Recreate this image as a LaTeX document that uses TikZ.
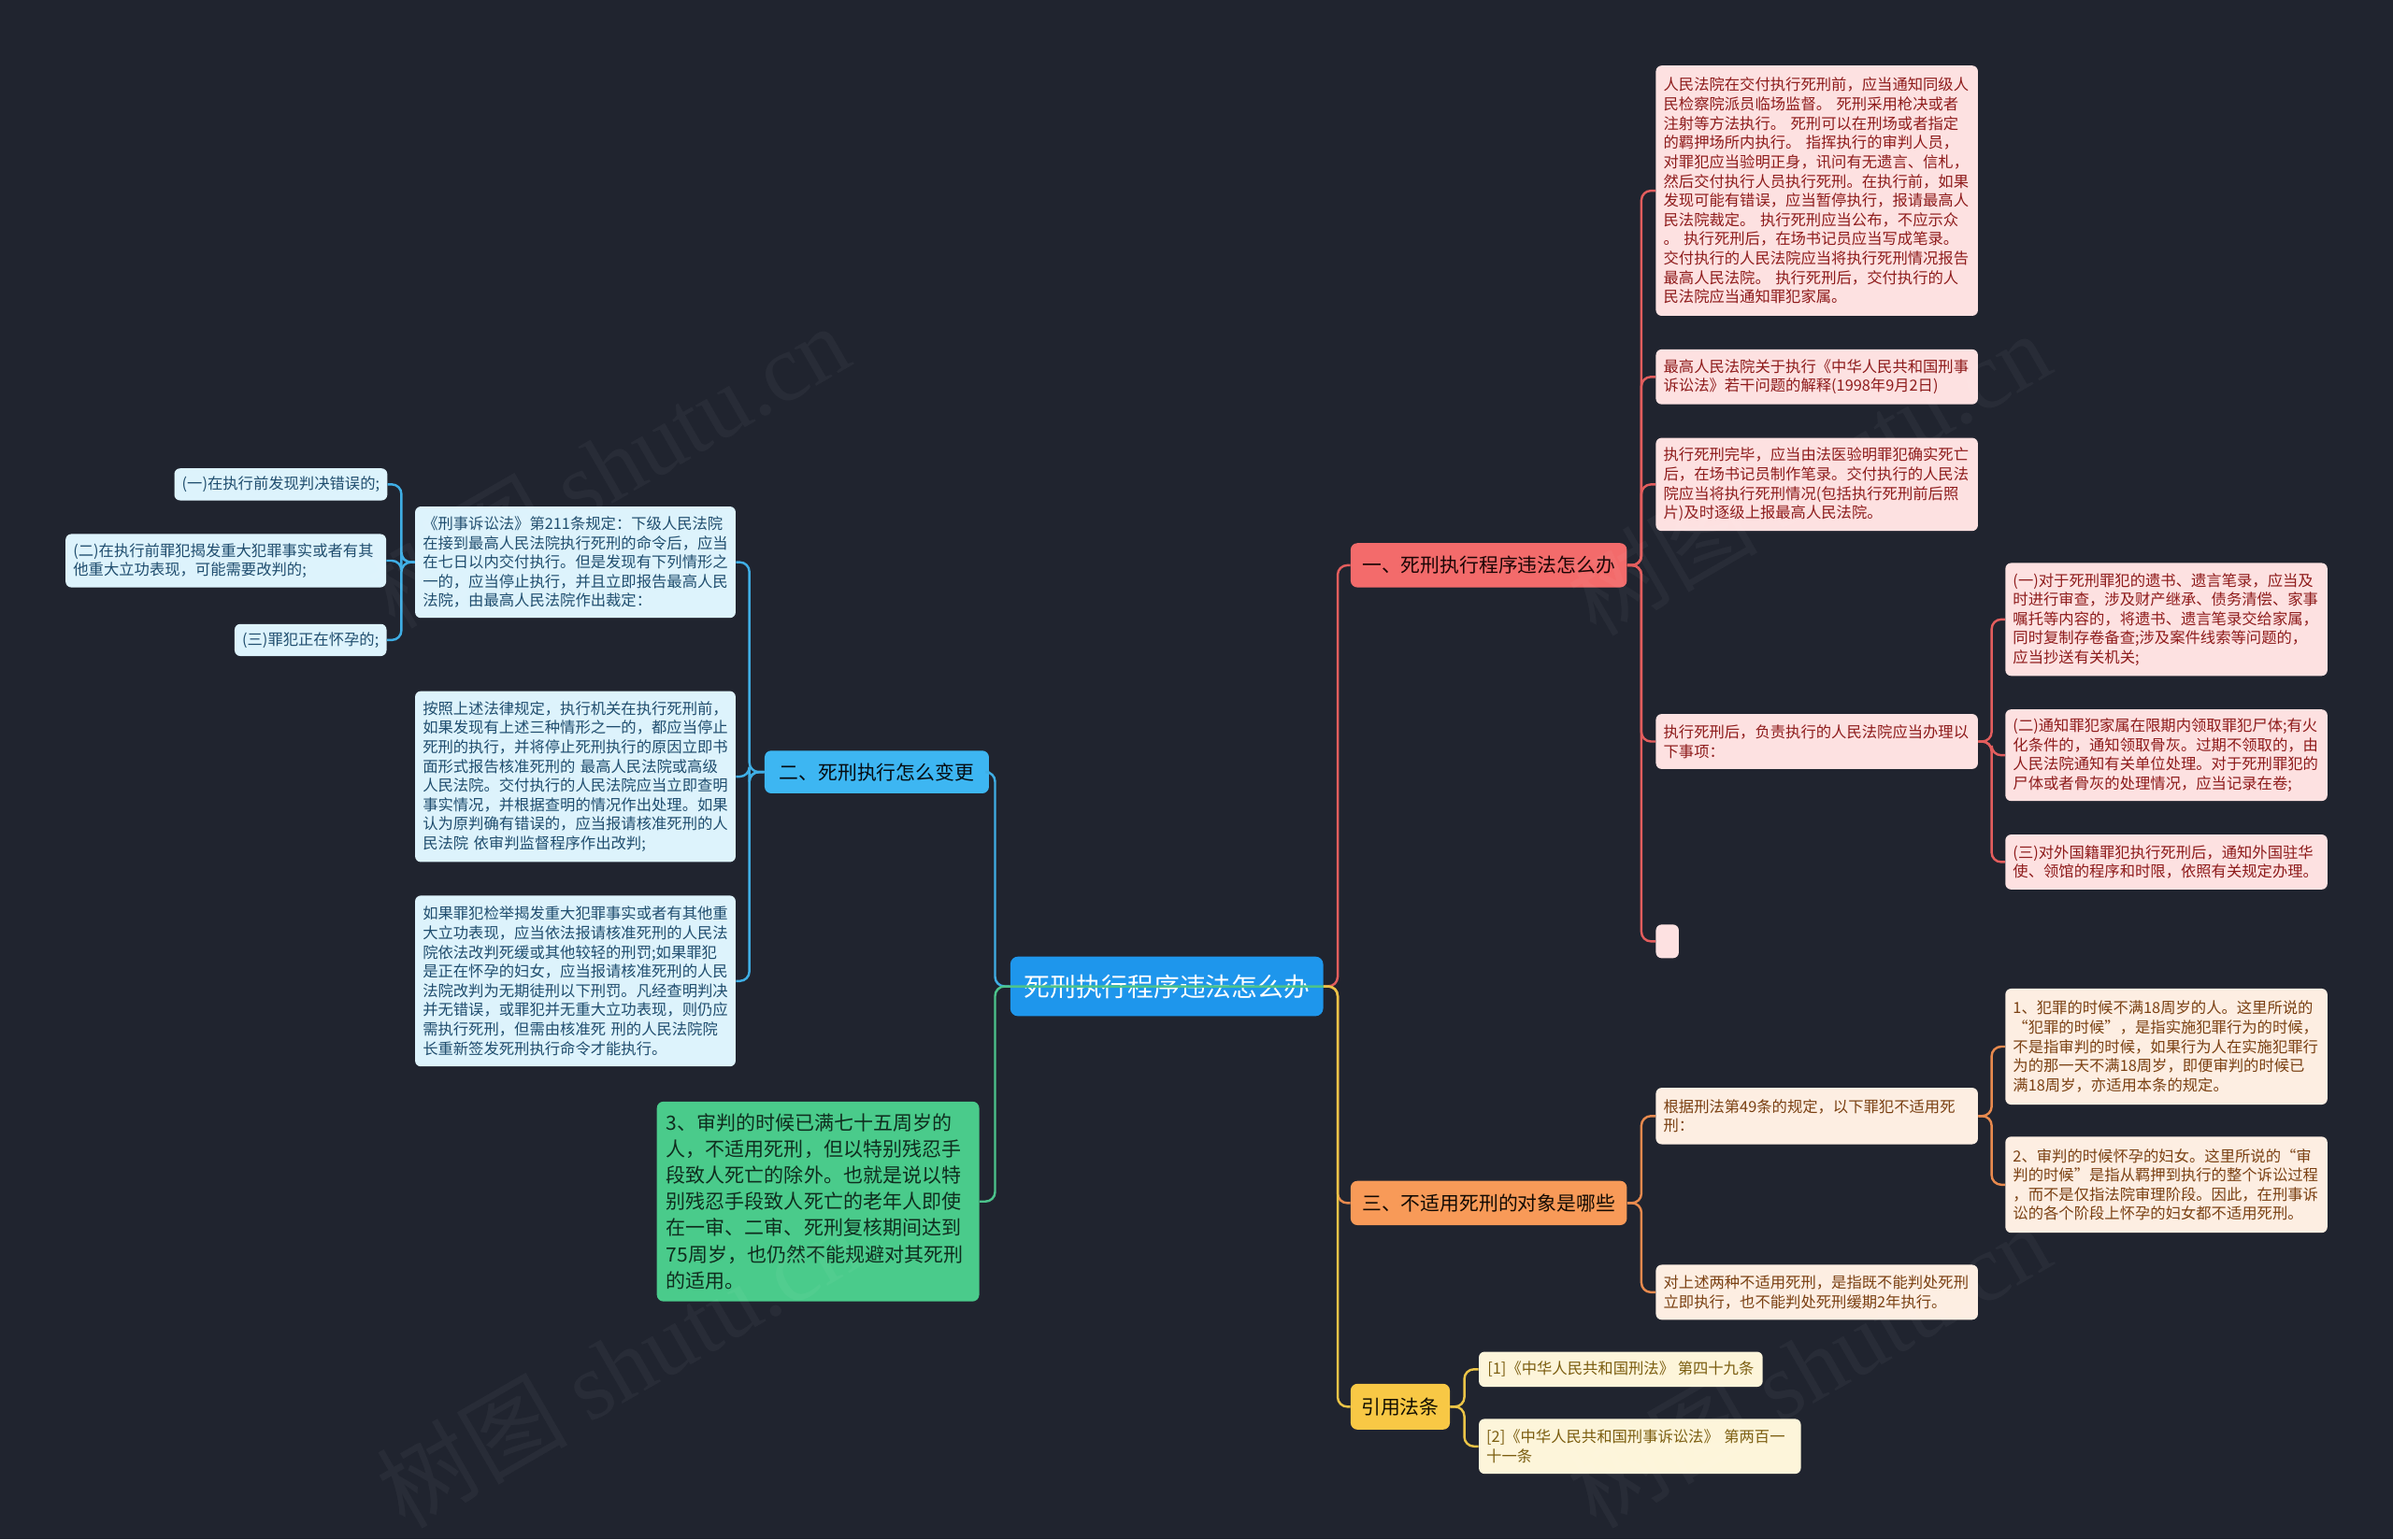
\documentclass[tikz,border=0pt]{standalone}
\usepackage{fontspec}
\setmainfont{Noto Sans CJK SC}
\newfontfamily\wmlatin{Liberation Serif}
\definecolor{bg}{HTML}{20242F}
\definecolor{rootfill}{HTML}{1E96EC}
\definecolor{rbr}{HTML}{F36B6B}
\definecolor{rcon}{HTML}{E35D5D}
\definecolor{rfill}{HTML}{FDE1E1}
\definecolor{rtext}{HTML}{8E1B1B}
\definecolor{bbr}{HTML}{3DB6F2}
\definecolor{bcon}{HTML}{3FAEE5}
\definecolor{bfill}{HTML}{DDF3FC}
\definecolor{btext}{HTML}{1F4D6E}
\definecolor{obr}{HTML}{F89A58}
\definecolor{ocon}{HTML}{E88A4E}
\definecolor{ofill}{HTML}{FDEEE2}
\definecolor{otext}{HTML}{7A4012}
\definecolor{ybr}{HTML}{F8C845}
\definecolor{ycon}{HTML}{EBC447}
\definecolor{yfill}{HTML}{FDF5DA}
\definecolor{ytext}{HTML}{7B5D0F}
\definecolor{gfill}{HTML}{4ACB8B}
\definecolor{gcon}{HTML}{4CC38C}
\definecolor{gtext}{HTML}{0F2D1E}
\tikzset{
  cbox/.style={rounded corners=3pt, inner xsep=4pt, inner ysep=0pt, align=left,
    font=\fontsize{8}{10.1}\selectfont},
  rbox/.style={cbox, fill=rfill, text=rtext},
  bbox/.style={cbox, fill=bfill, text=btext},
  obox/.style={cbox, fill=ofill, text=otext},
  ybox/.style={cbox, fill=yfill, text=ytext},
  brbox/.style={rounded corners=3.5pt, inner xsep=4pt, inner ysep=0pt,
    font=\fontsize{10.2}{12}\selectfont},
  conn/.style={line width=1.2pt, rounded corners=5pt},
  wm/.style={rotate=30, text=white, opacity=0.04, font=\fontsize{50}{56}\selectfont}
}
\begin{document}
\begin{tikzpicture}[x=0.8pt,y=-0.8pt]
\fill[bg] (0,0) rectangle (1568,1009);
\useasboundingbox (0,0) rectangle (1568,1009);

% root
\node[rounded corners=4pt, fill=rootfill, text=white, minimum width=164pt, minimum height=31.2pt,
  inner sep=0pt, font=\fontsize{13.6}{16}\selectfont] (root) at (764.5,646.5) {死刑执行程序违法怎么办};

% main branches
\node[brbox, fill=rbr, text=black!80!rtext, minimum width=144.8pt, minimum height=23.2pt] (b1) at (975.5,370.5) {一、死刑执行程序违法怎么办};
\node[brbox, fill=bbr, text=black!85!btext, minimum width=117.6pt, minimum height=22.4pt] (b2) at (574.5,506) {二、死刑执行怎么变更};
\node[brbox, fill=obr, text=black!85!otext, minimum width=144.8pt, minimum height=23.2pt] (b3) at (975.5,788.5) {三、不适用死刑的对象是哪些};
\node[brbox, fill=ybr, text=black!85!ytext, minimum width=52pt, minimum height=24pt] (b4) at (917.5,922) {引用法条};

% green node
\node[rounded corners=3.5pt, fill=gfill, text=gtext, inner xsep=5pt, inner ysep=0pt, align=left,
  text width=159pt, minimum height=104.8pt, font=\fontsize{10.3}{13.8}\selectfont] (g) at (536,787.5)
  {3、审判的时候已满七十五周岁的\\人，不适用死刑，但以特别残忍手\\段致人死亡的除外。也就是说以特\\别残忍手段致人死亡的老年人即使\\在一审、二审、死刑复核期间达到\\75周岁，也仍然不能规避对其死刑\\的适用。};

% red children
\node[rbox, text width=160.8pt, minimum height=131.2pt] (r1) at (1190.5,125)
  {人民法院在交付执行死刑前，应当通知同级人\\民检察院派员临场监督。~死刑采用枪决或者\\注射等方法执行。~死刑可以在刑场或者指定\\的羁押场所内执行。~指挥执行的审判人员，\\对罪犯应当验明正身，讯问有无遗言、信札，\\然后交付执行人员执行死刑。在执行前，如果\\发现可能有错误，应当暂停执行，报请最高人\\民法院裁定。~执行死刑应当公布，不应示众\\。~执行死刑后，在场书记员应当写成笔录。\\交付执行的人民法院应当将执行死刑情况报告\\最高人民法院。~执行死刑后，交付执行的人\\民法院应当通知罪犯家属。};
\node[rbox, text width=160.8pt, minimum height=28.8pt] (r2) at (1190.5,247)
  {最高人民法院关于执行《中华人民共和国刑事\\诉讼法》若干问题的解释(1998年9月2日)};
\node[rbox, text width=160.8pt, minimum height=48.8pt] (r3) at (1190.5,317.5)
  {执行死刑完毕，应当由法医验明罪犯确实死亡\\后，在场书记员制作笔录。交付执行的人民法\\院应当将执行死刑情况(包括执行死刑前后照\\片)及时逐级上报最高人民法院。};
\node[rbox, text width=160.8pt, minimum height=28.8pt] (r4) at (1190.5,486)
  {执行死刑后，负责执行的人民法院应当办理以\\下事项：};
\node[rbox, inner sep=0pt, minimum width=12pt, minimum height=17.6pt] (r5) at (1092.5,617) {};
\node[rbox, text width=160.8pt, minimum height=59.2pt] (r4a) at (1419.5,406)
  {(一)对于死刑罪犯的遗书、遗言笔录，应当及\\时进行审查，涉及财产继承、债务清偿、家事\\嘱托等内容的，将遗书、遗言笔录交给家属，\\同时复制存卷备查;涉及案件线索等问题的，\\应当抄送有关机关;};
\node[rbox, text width=160.8pt, minimum height=48pt] (r4b) at (1419.5,495)
  {(二)通知罪犯家属在限期内领取罪犯尸体;有火\\化条件的，通知领取骨灰。过期不领取的，由\\人民法院通知有关单位处理。对于死刑罪犯的\\尸体或者骨灰的处理情况，应当记录在卷;};
\node[rbox, text width=160.8pt, minimum height=28.8pt] (r4c) at (1419.5,565)
  {(三)对外国籍罪犯执行死刑后，通知外国驻华\\使、领馆的程序和时限，依照有关规定办理。};

% blue children
\node[bbox, text width=160pt, minimum height=58.4pt] (p1) at (377,368.5)
  {《刑事诉讼法》第211条规定：下级人民法院\\在接到最高人民法院执行死刑的命令后，应当\\在七日以内交付执行。但是发现有下列情形之\\一的，应当停止执行，并且立即报告最高人民\\法院，由最高人民法院作出裁定：};
\node[bbox, minimum width=110.4pt, minimum height=16.8pt] (p1a) at (184,317.5) {(一)在执行前发现判决错误的;};
\node[bbox, text width=160pt, minimum height=28pt] (p1b) at (148,367.5)
  {(二)在执行前罪犯揭发重大犯罪事实或者有其\\他重大立功表现，可能需要改判的;};
\node[bbox, minimum width=79.2pt, minimum height=16.8pt] (p1c) at (203.5,419.5) {(三)罪犯正在怀孕的;};
\node[bbox, text width=160pt, minimum height=89.6pt] (p2) at (377,509)
  {按照上述法律规定，执行机关在执行死刑前，\\如果发现有上述三种情形之一的，都应当停止\\死刑的执行，并将停止死刑执行的原因立即书\\面形式报告核准死刑的~最高人民法院或高级\\人民法院。交付执行的人民法院应当立即查明\\事实情况，并根据查明的情况作出处理。如果\\认为原判确有错误的，应当报请核准死刑的人\\民法院~依审判监督程序作出改判;};
\node[bbox, text width=160pt, minimum height=89.6pt] (p3) at (377,643)
  {如果罪犯检举揭发重大犯罪事实或者有其他重\\大立功表现，应当依法报请核准死刑的人民法\\院依法改判死缓或其他较轻的刑罚;如果罪犯\\是正在怀孕的妇女，应当报请核准死刑的人民\\法院改判为无期徒刑以下刑罚。凡经查明判决\\并无错误，或罪犯并无重大立功表现，则仍应\\需执行死刑，但需由核准死~刑的人民法院院\\长重新签发死刑执行命令才能执行。};

% orange children
\node[obox, text width=160.8pt, minimum height=29.6pt] (o1) at (1190.5,731.5)
  {根据刑法第49条的规定，以下罪犯不适用死\\刑：};
\node[obox, text width=160.8pt, minimum height=60.8pt] (o1a) at (1419.5,686)
  {1、犯罪的时候不满18周岁的人。这里所说的\\“犯罪的时候”，是指实施犯罪行为的时候，\\不是指审判的时候，如果行为人在实施犯罪行\\为的那一天不满18周岁，即便审判的时候已\\满18周岁，亦适用本条的规定。};
\node[obox, text width=160.8pt, minimum height=50.4pt] (o1b) at (1419.5,776.5)
  {2、审判的时候怀孕的妇女。这里所说的“审\\判的时候”是指从羁押到执行的整个诉讼过程\\，而不是仅指法院审理阶段。因此，在刑事诉\\讼的各个阶段上怀孕的妇女都不适用死刑。};
\node[obox, text width=160.8pt, minimum height=28.8pt] (o2) at (1190.5,847)
  {对上述两种不适用死刑，是指既不能判处死刑\\立即执行，也不能判处死刑缓期2年执行。};

% yellow children
\node[ybox, minimum width=148.8pt, minimum height=18.4pt] (y1) at (1062,897.5) {[1]《中华人民共和国刑法》~第四十九条};
\node[ybox, text width=160.8pt, minimum height=28.8pt] (y2) at (1074.5,948)
  {[2]《中华人民共和国刑事诉讼法》~第两百一\\十一条};

% connectors from root
\draw[conn, rcon] (root.east) -- (876.5,646.5) |- (b1.west);
\draw[conn, ocon] (root.east) -- (876.5,646.5) |- (b3.west);
\draw[conn, ycon] (root.east) -- (876.5,646.5) |- (b4.west);
\draw[conn, bcon] (root.west) -- (652,646.5) |- (b2.east);
\draw[conn, gcon] (root.east) -- (652,646.5) |- (g.east);

% red branch
\draw[conn, rcon] (b1.east) -- (1075.5,370.5) |- (r1.west);
\draw[conn, rcon] (b1.east) -- (1075.5,370.5) |- (r2.west);
\draw[conn, rcon] (b1.east) -- (1075.5,370.5) |- (r3.west);
\draw[conn, rcon] (b1.east) -- (1075.5,370.5) |- (r4.west);
\draw[conn, rcon] (b1.east) -- (1075.5,370.5) |- (r5.west);
\draw[conn, rcon] (r4.east) -- (1305,486) |- (r4a.west);
\draw[conn, rcon] (r4.east) -- (1305,486) |- (r4b.west);
\draw[conn, rcon] (r4.east) -- (1305,486) |- (r4c.west);

% blue branch
\draw[conn, bcon] (b2.west) -- (491,506) |- (p1.east);
\draw[conn, bcon] (b2.west) -- (491,506) |- (p2.east);
\draw[conn, bcon] (b2.west) -- (491,506) |- (p3.east);
\draw[conn, bcon] (p1.west) -- (263,368.5) |- (p1a.east);
\draw[conn, bcon] (p1.west) -- (263,368.5) |- (p1b.east);
\draw[conn, bcon] (p1.west) -- (263,368.5) |- (p1c.east);

% orange branch
\draw[conn, ocon] (b3.east) -- (1075.5,788.5) |- (o1.west);
\draw[conn, ocon] (b3.east) -- (1075.5,788.5) |- (o2.west);
\draw[conn, ocon] (o1.east) -- (1305,731.5) |- (o1a.west);
\draw[conn, ocon] (o1.east) -- (1305,731.5) |- (o1b.west);

% yellow branch
\draw[conn, ycon] (b4.east) -- (959.5,922) |- (y1.west);
\draw[conn, ycon] (b4.east) -- (959.5,922) |- (y2.west);

% watermarks
\node[wm] (wm1) at (398,305) {树图~{\wmlatin shutu.cn}};
\node[wm] (wm2) at (1185,310) {树图~{\wmlatin shutu.cn}};
\node[wm] (wm3) at (405,895) {树图~{\wmlatin shutu.cn}};
\node[wm] (wm4) at (1185,895) {树图~{\wmlatin shutu.cn}};
\end{tikzpicture}
\end{document}
